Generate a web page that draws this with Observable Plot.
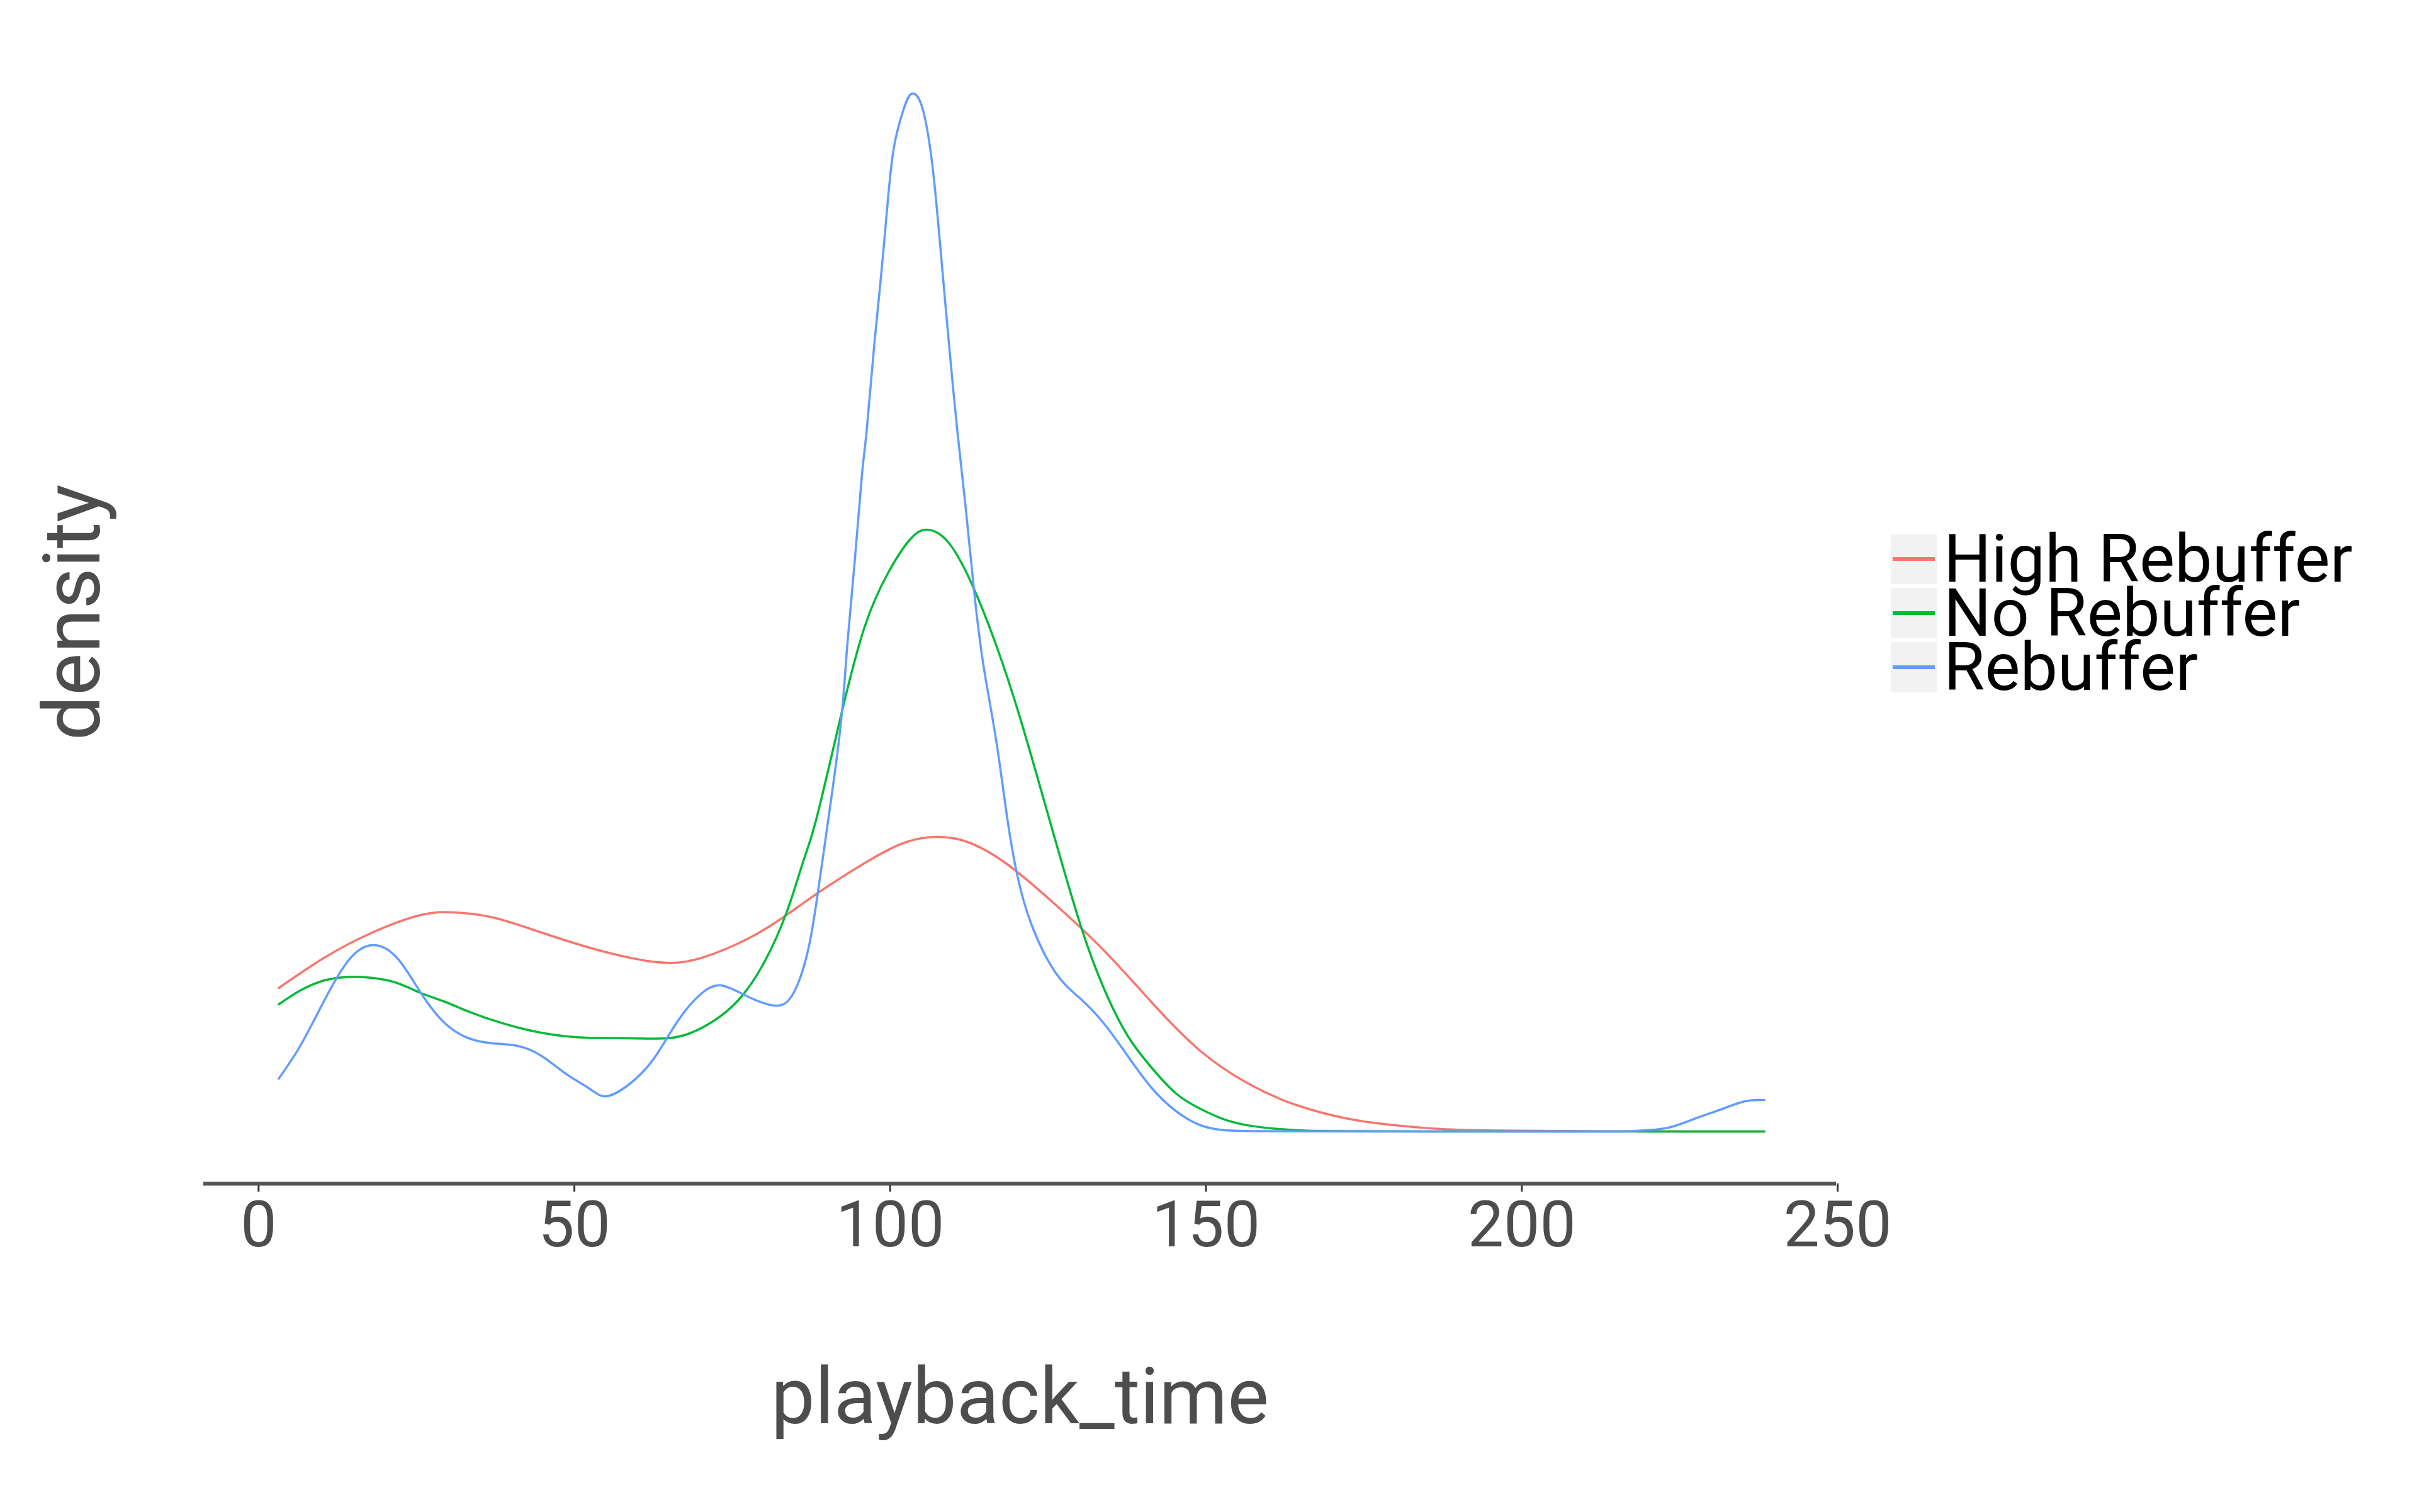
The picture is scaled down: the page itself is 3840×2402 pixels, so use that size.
<!DOCTYPE html>
<html>
<head>
<meta charset="utf-8">
<script src="https://cdn.jsdelivr.net/npm/d3@7"></script>
<script src="https://cdn.jsdelivr.net/npm/@observablehq/plot@0.6"></script>
<style>
  html, body { margin: 0; padding: 0; background: #ffffff; }
  #wrap { position: relative; width: 3840px; height: 2402px; background: #ffffff; font-family: Roboto, "DejaVu Sans", sans-serif; }
  #chart { position: absolute; left: 0; top: 0; }
  #legend { position: absolute; left: 3004px; top: 848px; }
  .row { display: flex; align-items: center; height: 80px; margin-bottom: 6px; }
  .key { width: 73px; height: 80px; background: #f2f2f2; position: relative; flex: none; }
  .key span { position: absolute; left: 3px; right: 3px; top: 37px; height: 6px; }
  .lab { margin-left: 11px; font-size: 106px; color: #000; line-height: 80px; white-space: nowrap; }
</style>
</head>
<body>
<div id="wrap">
  <div id="chart"></div>
  <div id="legend"></div>
</div>
<script>
// categories and colours
const groups = ["High Rebuffer", "No Rebuffer", "Rebuffer"];
const colors = ["#F8766D", "#00BA38", "#619CFF"];
const xTicks = [0, 50, 100, 150, 200, 250];

// High Rebuffer density
const highX = [3.2, 10.4, 18.0, 25.7, 31.0, 37.1, 44.8, 52.4, 58.8, 64.5, 70.2, 77.8, 83.6, 89.3, 96.9, 102.6, 107.2, 112.2, 118.6, 126.2, 133.8, 141.5, 149.1, 156.7, 164.3, 172.0, 178.4, 187.2, 196.0, 210.0, 225.0, 238.4];
const highY = [0.0057, 0.0069, 0.0079, 0.0086, 0.0087, 0.0085, 0.0079, 0.0073, 0.0069, 0.0067, 0.0069, 0.0077, 0.0086, 0.0096, 0.0108, 0.0115, 0.0117, 0.0115, 0.0106, 0.0090, 0.0072, 0.0051, 0.0032, 0.0019, 0.00105, 0.00053, 0.00029, 0.0001, 0.00004, 0.00001, 0.0, 0.0];

// No Rebuffer density
const noX = [3.2, 6.6, 10.4, 14.25, 18.0, 21.9, 25.7, 29.5, 33.3, 37.1, 41.0, 44.8, 48.6, 52.4, 58.8, 64.5, 68.3, 72.1, 75.9, 79.8, 83.6, 86.2, 88.3, 92.1, 95.9, 99.7, 103.1, 105.8, 109.2, 113.0, 116.8, 120.6, 125.2, 130.0, 133.8, 137.6, 141.5, 145.3, 149.1, 152.9, 156.7, 160.5, 164.3, 170.0, 190.0, 238.4];
const noY = [0.00505, 0.0056, 0.0060, 0.00614, 0.0061, 0.0059, 0.0055, 0.00515, 0.00476, 0.00442, 0.00413, 0.00392, 0.00378, 0.00372, 0.0037, 0.0037, 0.0039, 0.0044, 0.0052, 0.0066, 0.0087, 0.0107, 0.0124, 0.0164, 0.0200, 0.0222, 0.0235, 0.0239, 0.0234, 0.0217, 0.0193, 0.0164, 0.0124, 0.0083, 0.0057, 0.0038, 0.0025, 0.0015, 0.0009, 0.00048, 0.00024, 0.00012, 0.00005, 0.00001, 0.0, 0.0];

// Rebuffer density
const rebX = [3.2, 6.6, 10.4, 14.25, 18.0, 21.9, 25.7, 29.5, 33.3, 37.1, 41.0, 44.8, 48.6, 52.4, 55.1, 58.8, 62.6, 66.4, 70.2, 73.3, 77.1, 81.7, 84.7, 87.0, 88.5, 89.7, 90.2, 92.1, 93.2, 94.4, 95.5, 96.3, 97.5, 98.6, 99.6, 100.6, 102.0, 103.3, 104.9, 106.3, 107.3, 108.3, 109.3, 110.6, 111.9, 113.4, 114.9, 116.8, 118.5, 120.1, 122.4, 126.2, 130.0, 133.8, 137.6, 141.5, 145.3, 149.1, 152.9, 160.0, 180.0, 200.0, 215.0, 218.4, 222.8, 227.3, 231.8, 235.3, 238.4];
const rebY = [0.0021, 0.0034, 0.0052, 0.0068, 0.0074, 0.0069, 0.0055, 0.0043, 0.0037, 0.0035, 0.0034, 0.0030, 0.0023, 0.0017, 0.0014, 0.0019, 0.0029, 0.0044, 0.0055, 0.0058, 0.0054, 0.0050, 0.0055, 0.0072, 0.0094, 0.0115, 0.0124, 0.0160, 0.0193, 0.0227, 0.0260, 0.0279, 0.0313, 0.0341, 0.0369, 0.0391, 0.0405, 0.0412, 0.0408, 0.0391, 0.0369, 0.0341, 0.0313, 0.0279, 0.0249, 0.0212, 0.0183, 0.0155, 0.0125, 0.0102, 0.0082, 0.0063, 0.0053, 0.0043, 0.0030, 0.0017, 0.0008, 0.00025, 0.00005, 0.00001, 0.0, 0.0, 0.0, 0.00003, 0.00013, 0.0005, 0.0009, 0.0012, 0.00125];

const seriesX = [highX, noX, rebX];
const seriesY = [highY, noY, rebY];
const data = [];
groups.forEach((g, k) => {
  seriesX[k].forEach((x, i) => data.push({group: g, playback_time: x, density: seriesY[k][i]}));
});

const yMin = -0.002075, yMax = 0.0433;

const chart = Plot.plot({
  width: 3000,
  height: 2402,
  marginLeft: 323,
  marginRight: 83,
  marginTop: 65,
  marginBottom: 522,
  x: {domain: [-8.7, 249.8]},
  y: {domain: [yMin, yMax], axis: null},
  color: {domain: groups, range: colors},
  style: {fontFamily: "Roboto, 'DejaVu Sans', sans-serif", background: "#ffffff", overflow: "visible"},
  marks: [
    Plot.axisX({ticks: xTicks, tickSize: 13, tickPadding: 14, fontSize: 102, stroke: "#333333", strokeWidth: 3, fill: "#4d4d4d", label: null}),
    Plot.ruleY([yMin], {stroke: "#555555", strokeWidth: 6}),
    Plot.line(data, {x: "playback_time", y: "density", z: "group", stroke: "group", strokeWidth: 3.5, curve: "natural"}),
    Plot.text(["playback_time"], {text: d => d, frameAnchor: "bottom", dy: 380, lineAnchor: "bottom", fontSize: 124, fill: "#4d4d4d"}),
    Plot.text(["density"], {text: d => d, frameAnchor: "left", textAnchor: "middle", rotate: -90, dx: -166, lineAnchor: "bottom", fontSize: 127, fill: "#4d4d4d"})
  ]
});
document.getElementById("chart").appendChild(chart);

const legend = document.getElementById("legend");
groups.forEach((g, k) => {
  const row = document.createElement("div");
  row.className = "row";
  const key = document.createElement("div");
  key.className = "key";
  const ln = document.createElement("span");
  ln.style.background = colors[k];
  key.appendChild(ln);
  const lab = document.createElement("div");
  lab.className = "lab";
  lab.textContent = g;
  row.appendChild(key);
  row.appendChild(lab);
  legend.appendChild(row);
});
</script>
</body>
</html>
